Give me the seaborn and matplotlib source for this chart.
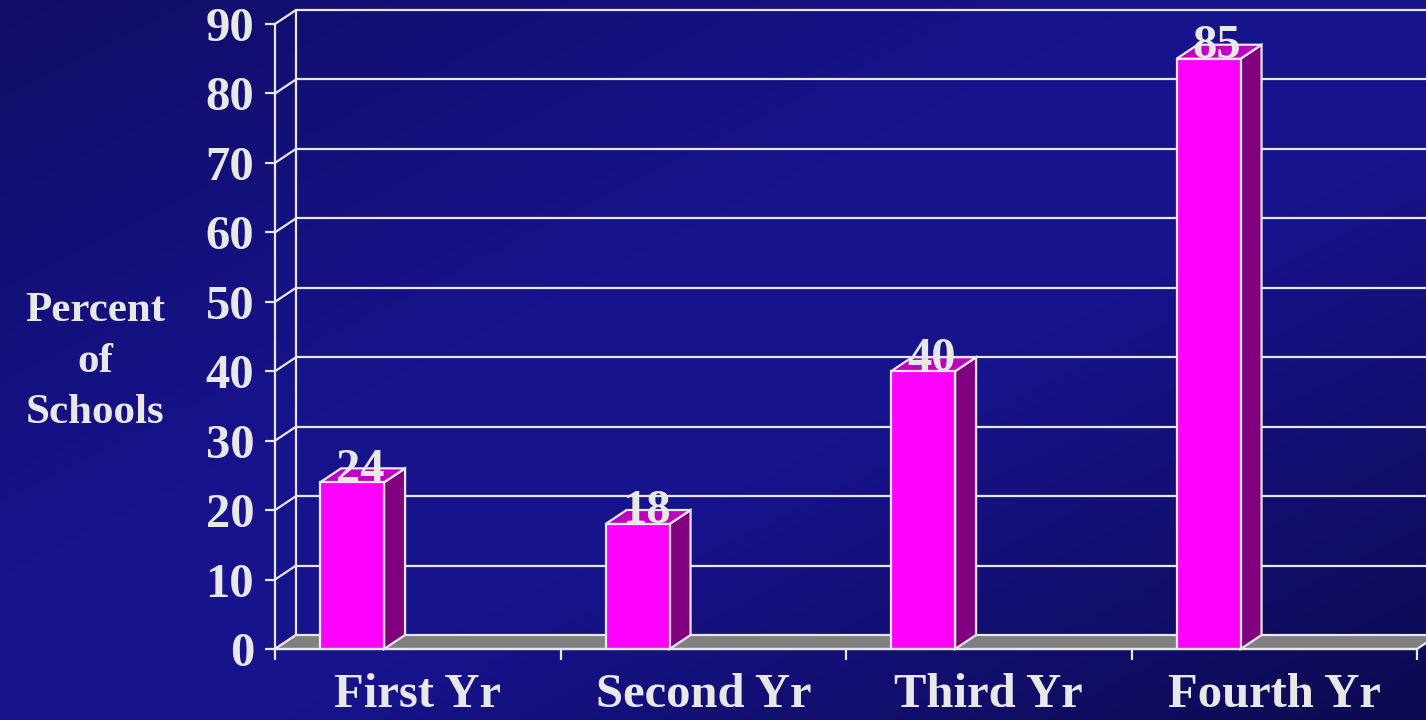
import numpy as np
import pandas as pd
import matplotlib
matplotlib.use("Agg")
import matplotlib.pyplot as plt
from matplotlib.patches import Polygon
import seaborn as sns

# chart data
categories = ["First Yr", "Second Yr", "Third Yr", "Fourth Yr"]
values = [24, 18, 40, 85]
y_ticks = [0, 10, 20, 30, 40, 50, 60, 70, 80, 90]
y_label = "Percent\nof\nSchools"

text_col = "#E8E8E8"
front_col = "#FF00FF"
side_col = "#800080"
top_col = "#C000C0"
floor_col = "#808080"
font = ["Liberation Serif", "DejaVu Serif"]

sns.set_theme(style="white")
plt.rcParams["font.family"] = font
plt.rcParams["font.weight"] = "bold"

fig = plt.figure(figsize=(14.26, 7.2), dpi=100)

# background gradient
bg = fig.add_axes([0, 0, 1, 1], zorder=-10)
gx, gy = np.meshgrid(np.linspace(0, 1, 300), np.linspace(0, 1, 150))
t = (gx + gy) / 2
c0 = np.array([0x11, 0x0D, 0x66]) / 255
c1 = np.array([0x17, 0x13, 0x8C]) / 255
c2 = np.array([0x0D, 0x0A, 0x50]) / 255
w1 = np.clip(t / 0.4, 0, 1)[..., None]
w2 = np.clip((t - 0.6) / 0.4, 0, 1)[..., None]
img = c0 + (c1 - c0) * w1
img = img + (c2 - c1) * w2
bg.imshow(img, aspect="auto", extent=[0, 1, 0, 1], origin="upper")
bg.axis("off")

ax = fig.add_axes([275 / 1426, 71 / 720, 1142 / 1426, 625 / 720])
ax.patch.set_alpha(0)
df = pd.DataFrame({"year": categories, "pct": values})
sns.barplot(data=df, x="year", y="pct", width=0.224, color=front_col,
            saturation=1, edgecolor=text_col, linewidth=1.6, ax=ax, zorder=5)
ax.set_xlim(-0.5, 3.5)
ax.set_ylim(0, 90)

# depth offset of the 3d look (21 px right, 14 px up)
inv = ax.transData.inverted()
p0 = ax.transData.transform((0, 0))
dx, dy = inv.transform(p0 + np.array([21, 14])) - np.array([0, 0])

# floor
floor = Polygon([(-0.5, 0), (3.5, 0), (3.5 + dx, dy), (-0.5 + dx, dy)],
                closed=True, facecolor=floor_col, edgecolor=text_col,
                linewidth=1.6, zorder=2, clip_on=False)
ax.add_patch(floor)

# back wall grid
for v in y_ticks:
    ax.plot([-0.5, -0.5 + dx], [v, v + dy], color=text_col, lw=1.6,
            clip_on=False, zorder=1)
    if v > 0:
        ax.plot([-0.5 + dx, 3.5 + dx * 2], [v + dy, v + dy], color=text_col,
                lw=1.6, clip_on=False, zorder=1)
ax.plot([-0.5 + dx, -0.5 + dx], [dy, 90 + dy], color=text_col, lw=1.6,
        clip_on=False, zorder=1)

# shift bars inside their slot, add side and top faces
for bar, v in zip(ax.patches, values):
    bar.set_x(bar.get_x() - 0.23)
    x0 = bar.get_x()
    x1 = x0 + bar.get_width()
    side = Polygon([(x1, 0), (x1 + dx, dy), (x1 + dx, v + dy), (x1, v)],
                   closed=True, facecolor=side_col, edgecolor=text_col,
                   linewidth=1.6, zorder=4, clip_on=False)
    top = Polygon([(x0, v), (x1, v), (x1 + dx, v + dy), (x0 + dx, v + dy)],
                  closed=True, facecolor=top_col, edgecolor=text_col,
                  linewidth=1.6, zorder=4, clip_on=False)
    ax.add_patch(side)
    ax.add_patch(top)
    ax.text(x0 + bar.get_width() / 2 + dx * 0.4, v + dy * 0.9, str(v),
            ha="center", va="center", fontsize=35, fontweight="bold",
            color=text_col, zorder=6, family=font)

# axes styling
for s in ["top", "right"]:
    ax.spines[s].set_visible(False)
for s in ["left", "bottom"]:
    ax.spines[s].set_color(text_col)
    ax.spines[s].set_linewidth(1.6)
    ax.spines[s].set_zorder(7)
ax.set_yticks(y_ticks)
ax.set_yticklabels([str(v) for v in y_ticks], fontsize=35,
                   fontweight="bold", color=text_col)
ax.tick_params(axis="y", direction="out", length=7, width=1.6,
               color=text_col, pad=8, left=True)
ax.set_xticks(range(len(categories)))
ax.set_xticklabels(categories, fontsize=35, fontweight="bold",
                   color=text_col)
ax.tick_params(axis="x", which="major", length=0, pad=17)
ax.set_xticks([-0.5, 0.5, 1.5, 2.5, 3.5], minor=True)
ax.tick_params(axis="x", which="minor", direction="out", length=8,
               width=1.6, color=text_col, bottom=True)
ax.set_xlabel("")
ax.set_ylabel("")

fig.text(95 / 1426, 1 - 362 / 720, y_label, ha="center", va="center",
         fontsize=31, fontweight="bold", color=text_col, linespacing=1.45,
         family=font)

fig.savefig("out.png", dpi=100)
